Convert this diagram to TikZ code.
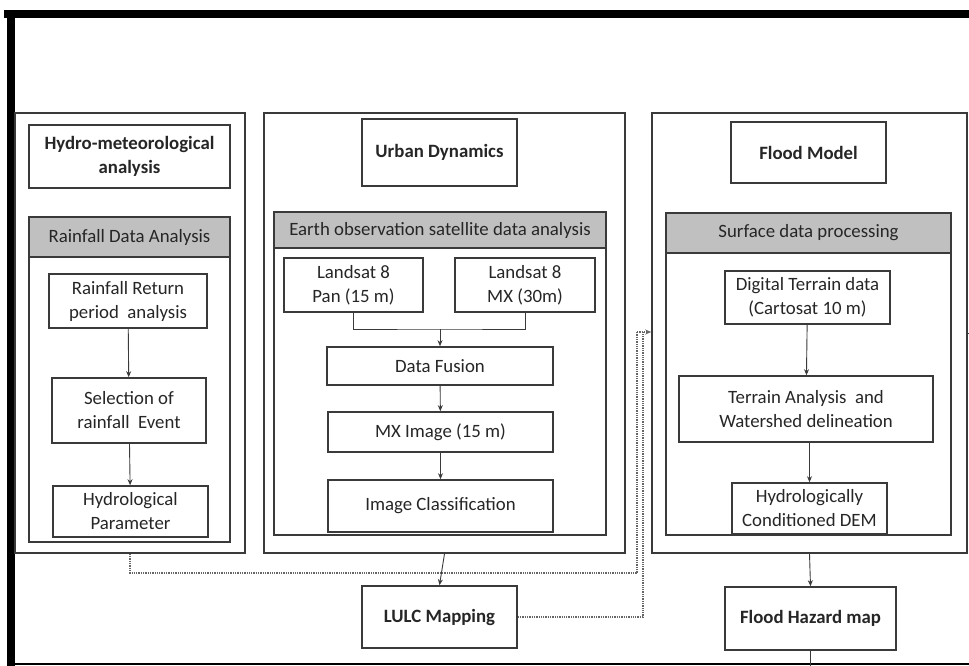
\documentclass[tikz,border=0pt]{standalone}
\usepackage{fontspec}
\setmainfont{Carlito}
\usetikzlibrary{arrows.meta}
\definecolor{ln}{HTML}{3A3A3A}
\definecolor{hdr}{HTML}{C0C0C0}
\definecolor{tx}{HTML}{262626}
\tikzset{
  box/.style={draw=ln, line width=1.6pt, fill=white, inner sep=0pt, align=center, text=tx,
    font=\fontsize{18.8}{24}\selectfont},
  btitle/.style={box, font=\fontsize{18.8}{24}\selectfont\bfseries},
  outerbox/.style={draw=ln, line width=1.6pt},
  panel/.style={draw=ln, line width=1.4pt, fill=white},
  hdrbox/.style={box, fill=hdr},
  flow/.style={draw=ln, line width=0.9pt, -{Stealth[length=6pt,width=5pt]}},
  plainline/.style={draw=ln, line width=0.9pt},
  dotline/.style={draw=black!60, line width=1.3pt, densely dotted},
  dotflow/.style={dotline, -{Stealth[length=6pt,width=5pt]}}
}
\begin{document}
\begin{tikzpicture}[x=1pt,y=-1pt]
\useasboundingbox (0,0) rectangle (969,666);
\fill[white] (0,0) rectangle (969,666);
% black frame
\fill[black] (4,10) rectangle (969,18);
\fill[black] (7,10) rectangle (15,666);
\draw[black, line width=2pt] (7,664) -- (969,664);

% ---------- Column 1 ----------
\node[outerbox, minimum width=230, minimum height=440] (c1) at (130,333) {};
\node[btitle, minimum width=201, minimum height=63] (h1) at (129.5,156.5) {Hydro-meteorological\\analysis};
\draw[panel] (29,217) rectangle (230,542);
\node[hdrbox, minimum width=201, minimum height=40] (g1) at (129.5,237) {Rainfall Data Analysis};
\node[box, minimum width=158, minimum height=54] (r1) at (128,301) {Rainfall Return\\period\ \ analysis};
\node[box, minimum width=154, minimum height=65] (r2) at (129,410.5) {Selection of\\rainfall\ \ Event};
\node[box, minimum width=155, minimum height=51] (r3) at (130.5,511.5) {Hydrological\\Parameter};
\draw[flow] (r1) -- (r2);
\draw[flow] (r2) -- (r3);

% ---------- Column 2 ----------
\node[outerbox, minimum width=361, minimum height=440] (c2) at (444.5,333) {};
\node[btitle, minimum width=155, minimum height=67] (h2) at (439.5,152.5) {Urban Dynamics};
\draw[panel] (274,212) rectangle (606,535);
\node[hdrbox, minimum width=332, minimum height=36] (g2) at (440,230) {Earth observation satellite data analysis};
\node[box, minimum width=139, minimum height=54] (u1) at (353.5,285) {Landsat 8\\Pan (15 m)};
\node[box, minimum width=140, minimum height=54] (u2) at (525,285) {Landsat 8\\MX (30m)};
\node[box, minimum width=226, minimum height=38] (u3) at (440,366) {Data Fusion};
\node[box, minimum width=225, minimum height=40] (u4) at (440.5,432) {MX Image (15 m)};
\node[box, minimum width=225, minimum height=52] (u5) at (440.5,506) {Image Classification};
\node[btitle, minimum width=155, minimum height=62] (lulc) at (439.5,617) {LULC Mapping};
\coordinate (mg) at (440,329);
\draw[plainline] (u1.south) |- (mg) -| (u2.south);
\draw[flow] (mg) -- (u3.north);
\draw[flow] (u3) -- (u4);
\draw[flow] (u4) -- (u5);
\draw[flow] (c2.south) -- (lulc.north);

% ---------- Column 3 ----------
\node[outerbox, minimum width=315, minimum height=440] (c3) at (809.5,333) {};
\node[btitle, minimum width=155, minimum height=61] (h3) at (808.5,152.5) {Flood Model};
\draw[panel] (666,213) rectangle (951,535);
\node[hdrbox, minimum width=285, minimum height=40] (g3) at (808.5,233) {Surface data processing};
\node[box, minimum width=165, minimum height=53] (f1) at (807.5,297.5) {Digital Terrain data\\(Cartosat 10 m)};
\node[box, minimum width=254, minimum height=66] (f2) at (806,409) {Terrain Analysis\ \ and\\Watershed delineation};
\node[box, minimum width=155, minimum height=51] (f3) at (809.5,508.5) {Hydrologically\\Conditioned DEM};
\node[btitle, minimum width=171, minimum height=63] (fh) at (810.5,618.5) {Flood Hazard map};
\draw[flow] (f1) -- (f2);
\draw[flow] (f2.south -| f3.north) -- (f3.north);
\draw[flow] (c3.south) -- (fh.north);
\coordinate (fout) at (810.5,666);
\draw[plainline] (fh.south) -- (fout);
\coordinate (rstub) at (969,333);
\draw[plainline] (c3.east |- rstub) -- (rstub);

% ---------- dotted connectors ----------
\coordinate (jn) at (652,332);
\coordinate (d1) at (130,573);
\coordinate (d2) at (637,573);
\coordinate (d3) at (637,332);
\coordinate (e1) at (643,617);
\coordinate (e2) at (643,332);
\draw[dotline] (c1.south) -- (d1) -- (d2) -- (d3);
\draw[dotline] (lulc.east) -- (e1) -- (e2);
\draw[dotflow] (d3) -- (c3.west |- jn);
\end{tikzpicture}
\end{document}
